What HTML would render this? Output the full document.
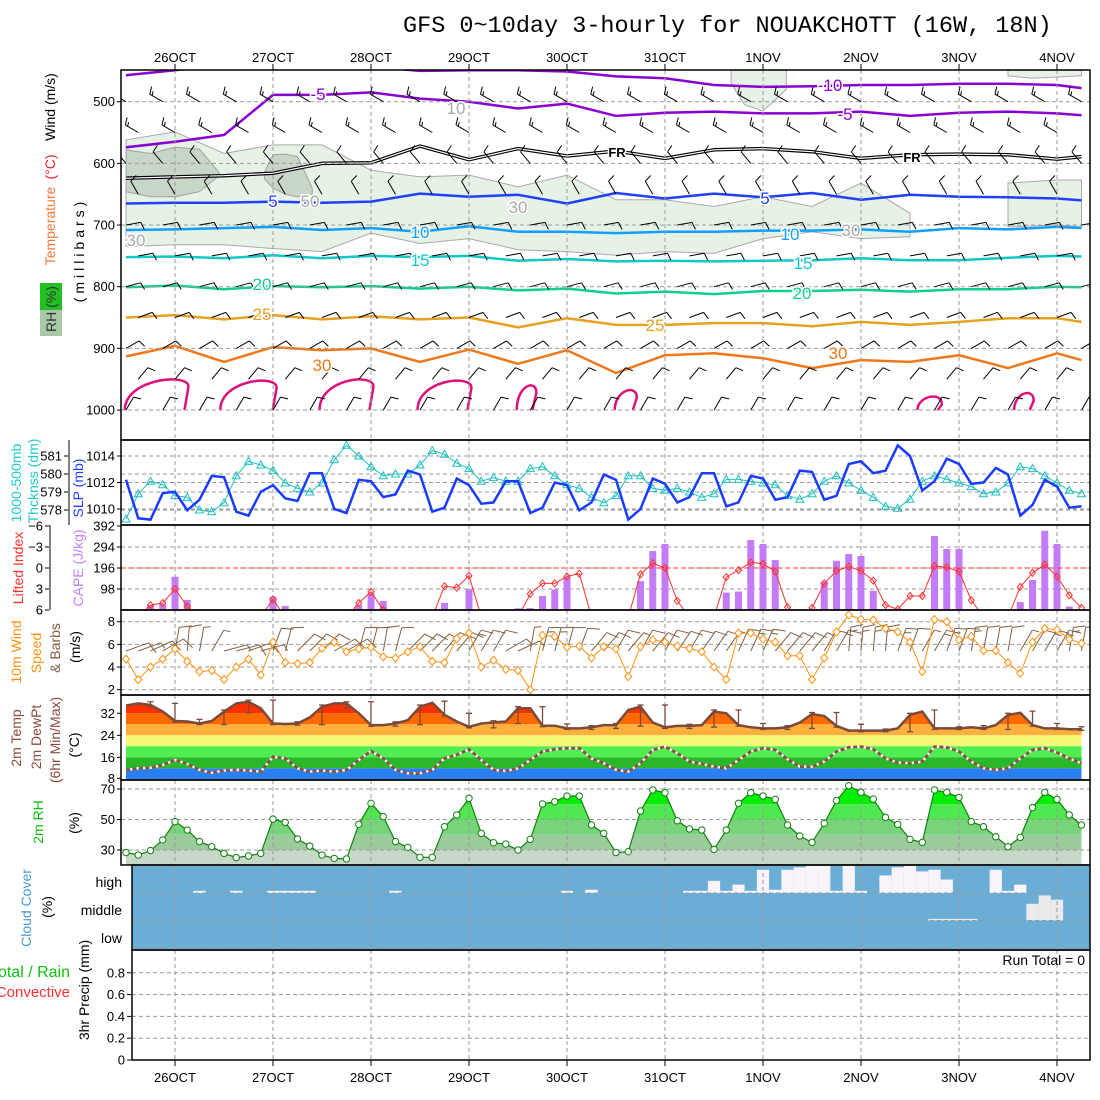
<!DOCTYPE html>
<html><head><meta charset="utf-8"><style>
html,body{margin:0;padding:0;background:#fff;}
svg{display:block;font-family:"Liberation Sans",sans-serif;}
.t{font-size:13px;fill:#000;}
</style></head><body>
<svg id="chart" xmlns="http://www.w3.org/2000/svg" width="1100" height="1100" viewBox="0 0 1100 1100">
<rect x="0" y="0" width="1100" height="1100" fill="#fff"/>
<text x="403" y="32" font-family="Liberation Mono, monospace" font-size="23.5" fill="#000">GFS 0~10day 3-hourly for NOUAKCHOTT (16W, 18N)</text>
<g id="layers"></g>
<g font-size="14">
 <text transform="translate(55,107) rotate(-90)" text-anchor="middle" fill="#000">Wind (m/s)</text>
 <text transform="translate(55,167) rotate(-90)" text-anchor="middle" fill="#e02020">(°C)</text>
 <text transform="translate(55,226) rotate(-90)" text-anchor="middle" fill="#f07838">Temperature</text>
 <text transform="translate(84,250) rotate(-90)" text-anchor="middle" fill="#000" letter-spacing="4">(millibars)</text>
 <rect x="40" y="283" width="22" height="27" fill="#22c022"/>
 <rect x="40" y="310" width="22" height="26" fill="#a8c8a8"/>
 <text transform="translate(56,309) rotate(-90)" text-anchor="middle" fill="#333">RH (%)</text>
 <text transform="translate(21,483) rotate(-90)" text-anchor="middle" fill="#20c8c8">1000-500mb</text>
 <text transform="translate(38,481) rotate(-90)" text-anchor="middle" fill="#20c8c8">Thcknss (dm)</text>
 <text transform="translate(83,488) rotate(-90)" text-anchor="middle" fill="#2040ff">SLP (mb)</text>
 <text transform="translate(23,568) rotate(-90)" text-anchor="middle" fill="#ff3030">Lifted Index</text>
 <text transform="translate(83,568) rotate(-90)" text-anchor="middle" fill="#c080f8">CAPE (J/kg)</text>
 <text transform="translate(21,652) rotate(-90)" text-anchor="middle" fill="#ff9010">10m Wind</text>
 <text transform="translate(41,653) rotate(-90)" text-anchor="middle" fill="#ff9010">Speed</text>
 <text transform="translate(60,648) rotate(-90)" text-anchor="middle" fill="#806040">&amp; Barbs</text>
 <text transform="translate(80,647) rotate(-90)" text-anchor="middle" fill="#000">(m/s)</text>
 <text transform="translate(21,738) rotate(-90)" text-anchor="middle" fill="#8a4a3a">2m Temp</text>
 <text transform="translate(41,737) rotate(-90)" text-anchor="middle" fill="#8a4a3a">2m DewPt</text>
 <text transform="translate(60,740) rotate(-90)" text-anchor="middle" fill="#8a4a3a">(6hr Min/Max)</text>
 <text transform="translate(79,745) rotate(-90)" text-anchor="middle" fill="#000">(°C)</text>
 <text transform="translate(43,822) rotate(-90)" text-anchor="middle" fill="#10c010">2m RH</text>
 <text transform="translate(79,823) rotate(-90)" text-anchor="middle" fill="#000">(%)</text>
 <text transform="translate(31,908) rotate(-90)" text-anchor="middle" fill="#4a9ad0">Cloud Cover</text>
 <text transform="translate(52,907) rotate(-90)" text-anchor="middle" fill="#000">(%)</text>
 <text x="122" y="887" text-anchor="end">high</text>
 <text x="122" y="915" text-anchor="end">middle</text>
 <text x="122" y="943" text-anchor="end">low</text>
 <text x="70" y="977" text-anchor="end" fill="#10c010" font-size="16">Total / Rain</text>
 <text x="70" y="997" text-anchor="end" fill="#ff3030" font-size="15">Convective</text>
 <text transform="translate(89,990) rotate(-90)" text-anchor="middle" fill="#000">3hr Precip (mm)</text>
 <text x="1085" y="965" text-anchor="end">Run Total = 0</text>
</g>
</svg>
<script>
// ---------- data ----------
const dayLabels=["26OCT","27OCT","28OCT","29OCT","30OCT","31OCT","1NOV","2NOV","3NOV","4NOV"];
const slp=[1012.2,1009.3,1009.2,1011.2,1011.3,1009.9,1010.7,1012.5,1012.4,1009.8,1009.5,1011.3,1011.8,1010.8,1010.6,1012.7,1012.7,1010.0,1009.7,1012.2,1012.1,1010.9,1011.1,1012.9,1012.6,1009.8,1010.1,1012.3,1011.8,1010.4,1010.5,1012.1,1012.1,1009.7,1010.1,1012.0,1011.8,1009.9,1010.5,1012.6,1012.2,1009.2,1010.0,1012.3,1011.9,1010.5,1010.9,1012.7,1012.7,1010.2,1010.5,1012.5,1012.3,1010.7,1010.9,1012.9,1012.8,1010.7,1011.0,1013.4,1013.6,1012.7,1012.9,1014.8,1014.0,1011.4,1012.1,1013.8,1013.4,1011.9,1012.0,1013.1,1012.6,1009.5,1010.3,1012.2,1011.7,1010.1,1010.2];
const thick=[577.5,578.9,579.6,579.4,578.8,578.7,578.0,577.9,578.4,579.9,580.7,580.5,580.2,579.5,579.2,579.0,579.5,580.8,581.6,581.0,580.4,579.9,580.0,580.0,580.5,581.3,581.1,580.6,580.3,579.6,579.8,579.6,579.6,580.3,580.4,579.9,579.4,579.2,578.7,578.4,578.8,579.9,579.9,579.2,579.1,579.2,579.0,578.7,578.9,579.7,579.7,579.6,579.5,579.4,578.8,578.6,578.9,579.6,579.9,579.5,579.1,578.7,578.2,578.1,578.6,579.6,579.9,579.7,579.5,579.3,578.9,579.0,579.5,580.4,580.3,579.9,579.5,579.1,578.9];
const cape=[5,0,23,28,155,47,0,0,0,0,0,0,62,19,0,0,0,0,0,23,78,42,0,0,0,0,33,0,96,0,0,0,8,9,65,96,155,0,0,0,0,0,135,275,308,0,0,0,0,81,86,327,308,233,0,0,0,132,230,261,252,90,0,0,0,0,345,285,285,0,0,0,0,37,140,370,308,16,0];
const li=[7,7,5.3,5.0,3.0,5.5,7,7,7,7,7,7,4.5,7,7,7,7,7,7,5.0,3.4,6.0,7,7,7,7,2.6,2.8,1.1,7,7,7,7,3.7,2.2,2.2,1.2,0.8,7,7,7,7,0.9,-0.7,0,4.7,7,7,7,1.3,0.3,-0.8,-0.6,0.5,5.6,7,5.7,2.2,0.4,-0.2,0.4,1.8,5.3,5.9,4.0,4.0,-0.3,-0.1,0.5,4.6,7,7,7,2.7,0.7,-0.5,1.2,3.9,5.7];
const wspd=[4.7,2.9,4.0,4.7,5.6,4.5,3.6,3.7,2.9,4.0,4.7,3.3,6.2,4.4,4.3,4.4,5.65,6.2,5.35,5.6,5.75,4.9,4.8,5.35,5.8,4.5,4.4,6.5,7.0,4.0,4.6,3.8,3.7,2.0,6.8,6.7,5.75,5.85,4.8,5.8,5.6,3.15,5.8,6.4,6.2,5.85,5.65,5.35,4.0,2.9,7.0,7.0,6.45,6.2,5.0,5.0,2.9,4.8,7.1,8.6,8.2,8.15,7.4,7.1,6.2,3.6,8.2,8.0,6.4,6.7,5.45,5.45,4.4,3.45,6.2,7.4,7.3,6.45,6.1];
const wdir=[70,70,65,60,10,5,10,30,75,75,70,75,20,15,45,45,45,60,60,15,15,10,15,45,45,45,40,40,30,30,30,60,65,10,15,15,15,20,40,40,30,40,30,40,30,35,30,35,35,35,25,25,25,40,40,40,40,30,30,5,5,5,5,20,20,30,30,20,20,10,10,10,10,30,30,30,30,10,10];
const temp=[34.8,35.6,35.0,32.6,29.2,29.0,28.3,29.2,32.6,35.6,36.2,33.8,28.3,28.1,28.3,30.5,34.4,35.6,35.6,32.0,27.7,27.7,28.3,29.5,34.4,35.8,31.4,29.0,27.1,28.3,28.7,29.0,33.8,33.8,27.5,27.5,26.5,26.5,26.9,27.7,27.7,33.2,34.4,28.6,26.9,27.4,27.4,27.7,32.6,32.0,27.7,26.9,26.5,26.5,26.9,28.6,31.7,31.0,27.4,25.7,25.7,25.7,25.7,26.5,31.4,32.6,26.5,26.5,26.5,26.9,26.5,27.7,31.4,32.2,27.7,26.5,26.5,26.2,26.2];
const dewpt=[11.4,12.0,12.2,13.2,15.0,13.6,11.4,10.4,11.2,11.4,11.2,10.8,16.2,15.6,12.0,10.8,11.2,10.8,11.4,15.0,18.3,15.6,11.4,10.2,10.2,11.4,15.6,16.9,18.9,15.0,11.4,11.0,12.0,15.0,18.1,18.9,19.3,19.3,15.6,13.8,11.4,10.8,13.8,18.7,19.9,17.5,14.4,13.6,12.6,12.0,15.0,18.1,19.3,18.7,15.3,12.6,12.6,14.4,18.1,19.6,19.9,18.9,15.6,14.1,13.8,14.4,19.9,19.6,18.1,14.4,12.0,11.4,12.0,15.6,18.7,19.3,17.7,15.6,13.8];
const rh=[28.3,26.7,29.6,36.6,48.6,43.1,35.5,32.2,27.8,25.0,26.1,27.8,50.3,48.1,37.2,32.6,26.7,24.5,24.1,46.8,60.6,51.9,35.5,31.7,25.2,25.2,45.3,53.0,63.9,40.9,34.8,33.9,30.0,37.0,60.2,61.7,65.4,65.4,46.4,40.9,28.3,28.9,55.6,69.4,67.6,49.2,43.8,43.1,30.4,43.1,60.6,67.6,65.4,63.2,46.4,39.2,35.0,47.5,62.4,72.2,67.8,63.4,51.4,46.8,37.0,35.0,69.4,67.8,64.5,48.6,45.3,38.7,32.2,38.3,57.8,67.8,63.2,53.0,46.4];
const cloudHigh=[0,0,0,0,0,0,8,0,0,8,0,0,8,8,8,8,0,0,0,0,0,0,8,0,0,0,0,0,0,0,0,0,0,0,0,0,8,0,12,0,0,0,0,0,0,0,8,8,45,8,31,8,86,12,86,95,100,100,8,100,8,0,65,95,100,80,86,50,0,0,0,86,8,31,0,0,0,0,0];
const cloudMid=[0,0,0,0,0,0,0,0,0,0,0,0,0,0,0,0,0,0,0,0,0,0,0,0,0,0,0,0,0,0,0,0,0,0,0,0,0,0,0,0,0,0,0,0,0,0,0,0,0,0,0,0,0,0,0,0,0,0,0,0,0,0,0,0,0,0,6,6,6,6,0,0,0,0,62,93,77,0,0];
const cloudLow=new Array(79).fill(0);
const precip=new Array(79).fill(0);
// upper-air contours (hPa), sampled at these time indices
const cIdx=[0,4,8,12,16,20,24,28,32,36,40,44,48,52,56,60,64,68,72,76,78];
const isoM10=[457,449,438,432,438,443,450,449,449,451,459,462,473,476,475,473,473,471,471,473,478];
const isoM5=[574,565,554,489,489,485,495,500,511,503,523,518,516,519,519,516,523,518,516,519,522];
const isoFR=[624,622,620,616,600,599,572,594,576,588,580,592,578,576,581,592,586,585,586,593,589];
const iso5=[665,664,664,662,664,662,649,654,651,665,648,657,649,655,648,659,651,654,655,657,660];
const iso10=[708,707,705,703,708,705,711,702,711,711,713,711,711,709,709,707,711,705,707,703,705];
const iso15=[752,751,754,749,754,750,752,750,758,755,759,758,759,758,757,754,757,757,753,750,751];
const iso20=[801,798,804,799,801,799,803,800,806,803,811,808,812,807,807,805,808,804,804,800,801];
const iso25=[850,846,853,846,853,848,853,850,866,851,862,862,859,859,864,857,862,857,851,851,857];
const iso30=[913,896,922,898,903,900,922,902,925,903,940,911,908,916,932,919,922,911,932,908,919];
const rhTop=[562,549,584,570,570,611,622,619,638,619,659,659,670,654,670,632,681,null,632,627,627];
const rhBot=[735,732,732,738,743,713,730,722,740,743,749,743,746,722,711,722,719,null,703,700,703];
const blob1Idx=[0,2,4,6,7.6], blob1Top=[578,584,574,577,615], blob1Bot=[646,654,654,646,620];
const blob2Idx=[11.3,12,13,14,15.2], blob2Top=[615,586,585,589,640], blob2Bot=[625,640,650,654,650];
const blob3Idx=[49.4,50.5,52,53.9], blob3Top=[449,449,449,449], blob3Bot=[470,505,515,480];
const blob4Idx=[72,74,76,78], blob4Top=[449,449,449,449], blob4Bot=[458,462,460,458];
const hotIdx=[2.5,10,18,26,32.7,40.8,65.6,73.3], hotHalf=[2.6,2.3,2.2,2.2,0.8,0.9,1.0,0.8], hotTop=[949,951,949,951,959,967,978,972];
const upLevels=[500,550,600,650,700,750,800,850,900,950,1000];
const upDir=[300,300,320,330,80,80,75,70,60,40,30];
const upSpd=[15,15,10,10,10,10,10,10,10,10,10];

// ---------- scales ----------
const X0=126, DX=12.25, L=121, R=1090;
const xi=i=>X0+DX*i;
const yP=p=>101.7+(p-500)*0.6167;
const yS=v=>482.5-(v-1012)*13.25;
const yT=v=>456+(581-v)*18;
const yC=v=>610-v*84/392;
const yL=v=>568+v*7;
const yW=v=>689.7-(v-2)*11.33;
const yTe=v=>713.3+(32-v)*2.75;
const yR=v=>850-(v-30)*1.525;
const yPr=v=>1060-v*109;
const NS="http://www.w3.org/2000/svg";
const root=document.getElementById('layers');
function mk(tag,attrs,parent){const e=document.createElementNS(NS,tag);for(const k in attrs)e.setAttribute(k,attrs[k]);(parent||root).appendChild(e);return e;}
function grp(name){const g=mk('g',{});return g;}
function pts(arr){return arr.map(p=>p[0].toFixed(1)+','+p[1].toFixed(1)).join(' ');}
const defs=mk('defs',{});
function clip(id,x,y,w,h){const c=mk('clipPath',{id:id},defs);mk('rect',{x:x,y:y,width:w,height:h},c);}
clip('cUp',L,70,R-L,370);clip('cSlp',L,440,R-L,85);clip('cCape',L,525,R-L,85);clip('cWind',L,610,R-L,85);clip('cRh',L,780,R-L,85);

// ---------- upper panel ----------
const gUp=grp('upper-air-panel');gUp.setAttribute('clip-path','url(#cUp)');
function area(g,idx,top,bot,fill,stroke,name){
  let segs=[],cur=[];
  idx.forEach((ix,k)=>{if(top[k]==null){if(cur.length)segs.push(cur);cur=[];}else cur.push(k);});
  if(cur.length)segs.push(cur);
  segs.forEach(s=>{const a=s.map(k=>[xi(idx[k]),yP(top[k])]).concat(s.slice().reverse().map(k=>[xi(idx[k]),yP(bot[k])]));
    const p=mk('polygon',{points:pts(a),fill:fill,stroke:stroke,'stroke-width':1},g);
    
    });
}
area(gUp,cIdx,rhTop,rhBot,'#e6f2e6','#a8a8a8','rh-30-area');
area(gUp,blob3Idx,blob3Top,blob3Bot,'#e6f2e6','#a8a8a8','rh-30-area');
area(gUp,blob4Idx,blob4Top,blob4Bot,'#e6f2e6','#a8a8a8','rh-30-area');
area(gUp,blob1Idx,blob1Top,blob1Bot,'#c8d6c8','#a0a0a0','rh-50-area');
area(gUp,blob2Idx,blob2Top,blob2Bot,'#c8d6c8','#a0a0a0','rh-50-area');
// grid
const gGrid=grp('grid-lines');
function hgrid(y,x1){const l=mk('line',{x1:x1||L,x2:R,y1:y,y2:y,stroke:'#999','stroke-dasharray':'4,3','stroke-width':1},gGrid);}
[500,600,700,800,900,1000].forEach(p=>hgrid(yP(p)));
[1010,1012,1014].forEach(v=>hgrid(yS(v)));[578,579,580,581].forEach(v=>hgrid(yT(v)));
[98,196,294].forEach(v=>hgrid(yC(v)));
[2,4,6,8].forEach(v=>hgrid(yW(v)));
[30,50,70].forEach(v=>hgrid(yR(v)));
[0.2,0.4,0.6,0.8].forEach(v=>hgrid(yPr(v),132));
dayLabels.forEach((d,k)=>{const x=xi(4+8*k);
  [[70,440],[440,525],[525,610],[610,695],[695,780],[780,865],[950,1060]].forEach(r=>{const l=mk('line',{x1:x,x2:x,y1:r[0],y2:r[1],stroke:'#999','stroke-dasharray':'4,3'},gGrid);});
});
// contours
function contour(arr,color,w,name){const a=cIdx.map((ix,k)=>[xi(ix),yP(arr[k])]);
  const p=mk('polyline',{points:pts(a),fill:'none',stroke:color,'stroke-width':w,'stroke-linejoin':'round'},gUp);
  
  return a;}
contour(isoM10,'#8a00d0',2.5,'isotherm-minus10');
contour(isoM5,'#8a00d0',2.5,'isotherm-minus5');
contour(isoFR,'#000',3.5,'freezing-level');
const frIn=mk('polyline',{points:pts(cIdx.map((ix,k)=>[xi(ix),yP(isoFR[k])])),fill:'none',stroke:'#fff','stroke-width':1.2},gUp);


contour(iso5,'#2040ff',2.5,'isotherm-5');
contour(iso10,'#10a0ff',2.5,'isotherm-10');
contour(iso15,'#10c8c8',2.5,'isotherm-15');
contour(iso20,'#10d090',2.5,'isotherm-20');
contour(iso25,'#e8a020',2.5,'isotherm-25');
contour(iso30,'#f07818',2.5,'isotherm-30');
hotIdx.forEach((c,k)=>{const x1=xi(c-hotHalf[k]),x2=xi(c+hotHalf[k]),yt=yP(hotTop[k]),yb=yP(1000);
  const p=mk('path',{d:`M${x1},${yb} C${x1},${yt} ${x2},${yt-6} ${x2},${yt+8} L${x2-4},${yb}`,fill:'none',stroke:'#e0107a','stroke-width':2.5},gUp);
  
  });
// barbs
function barb(g,x,y,dir,spd,Ln,color,w){
  const r=dir*Math.PI/180,ux=Math.sin(r),uy=-Math.cos(r);
  const tx=x+ux*Ln,ty=y+uy*Ln;let d=`M${x.toFixed(1)},${y.toFixed(1)}L${tx.toFixed(1)},${ty.toFixed(1)}`;
  const px=-uy,py=ux;let n=Math.round(spd/5);let pos=0;
  while(n>0){const bx=tx-ux*pos,by=ty-uy*pos;const len=n>=2?0.5*Ln:0.28*Ln;
    d+=`M${bx.toFixed(1)},${by.toFixed(1)}l${(px*len+ux*len*0.3).toFixed(1)},${(py*len+uy*len*0.3).toFixed(1)}`;
    n-=2;pos+=0.18*Ln;}
  const e=mk('path',{d:d,fill:'none',stroke:color,'stroke-width':w||1},g);return e;}
const gUB=grp('upper-wind-barbs');gUB.setAttribute('clip-path','url(#cUp)');
upLevels.forEach((p,k)=>{for(let i=(k%2);i<79;i+=3){const b=barb(gUB,xi(i),yP(p),upDir[k],upSpd[k],15,'#000',1);
  
  }});

// ---------- SLP / thickness ----------
const gS=grp('slp-thickness-panel');gS.setAttribute('clip-path','url(#cSlp)');
const thl=mk('polyline',{points:pts(thick.map((v,i)=>[xi(i),yT(v)])),fill:'none',stroke:'#20c0c0','stroke-width':1},gS);


thick.forEach((v,i)=>{const x=xi(i),y=yT(v);const t=mk('polygon',{points:`${x},${y-4} ${x-4},${y+3} ${x+4},${y+3}`,fill:'none',stroke:'#20c0c0'},gS);
  
  });
const sl=mk('polyline',{points:pts(slp.map((v,i)=>[xi(i),yS(v)])),fill:'none',stroke:'#1a3cff','stroke-width':2.5},gS);



// ---------- CAPE / LI ----------
const gC=grp('cape-li-panel');gC.setAttribute('clip-path','url(#cCape)');
cape.forEach((v,i)=>{if(v<=0)return;const b=mk('rect',{x:xi(i)-3.5,y:yC(v),width:7,height:610-yC(v),fill:'#c47cf6'},gC);
  
  });
const z=mk('line',{x1:L,x2:R,y1:yL(0),y2:yL(0),stroke:'#ff3030','stroke-dasharray':'5,3'},gC);


const ll=mk('polyline',{points:pts(li.map((v,i)=>[xi(i),yL(v)])),fill:'none',stroke:'#ff3030','stroke-width':1},gC);


li.forEach((v,i)=>{if(v>6)return;const x=xi(i),y=yL(v);const d=mk('polygon',{points:`${x},${y-3.5} ${x+3},${y} ${x},${y+3.5} ${x-3},${y}`,fill:'none',stroke:'#ff3030'},gC);
  
  });

// ---------- wind ----------
const gW=grp('wind-panel');gW.setAttribute('clip-path','url(#cWind)');
wdir.forEach((d,i)=>{const b=barb(gW,xi(i),651,d,wspd[i]*1.94,24,'#806040',1);
  
  });
const wl=mk('polyline',{points:pts(wspd.map((v,i)=>[xi(i),yW(v)])),fill:'none',stroke:'#ff9010','stroke-width':1},gW);


wspd.forEach((v,i)=>{const x=xi(i),y=yW(v);const d=mk('polygon',{points:`${x},${y-4} ${x+3.5},${y} ${x},${y+4} ${x-3.5},${y}`,fill:'#fff',stroke:'#ff9010'},gW);
  
  });

// ---------- temperature ----------
const gT=grp('temperature-panel');
const tc=mk('clipPath',{id:'cTemp'},defs);
mk('polygon',{points:pts([[xi(0),780]].concat(temp.map((v,i)=>[xi(i),yTe(v)])).concat([[xi(78),780]]))},tc);
const bands=[[40,32,'#ff3000'],[32,28,'#ff6a00'],[28,24,'#ffb03c'],[24,20,'#f4fa78'],[20,16,'#50ee50'],[16,12,'#2ab82a'],[12,6,'#2a80f0']];
const gB=mk('g',{'clip-path':'url(#cTemp)'},gT);
bands.forEach(b=>{const y1=Math.max(695,yTe(b[0])),y2=Math.min(780,yTe(b[1]));const r=mk('rect',{x:L,y:y1,width:R-L,height:y2-y1,fill:b[2]},gB);
  
  });
for(let i=2;i<79;i+=2){const seg=temp.slice(i-2,i+1);const hi=Math.max(...seg)+0.6,lo=Math.min(...seg)-0.4;const x=xi(i);
  const e=mk('path',{d:`M${x},${yTe(hi)}V${yTe(lo)}M${x-3},${yTe(hi)}h6M${x-3},${yTe(lo)}h6`,stroke:'#7a4a3a','stroke-width':1.3,fill:'none'},gT);
  
  }
const tl=mk('polyline',{points:pts(temp.map((v,i)=>[xi(i),yTe(v)])),fill:'none',stroke:'#7a4a3a','stroke-width':2.5},gT);


const dw=mk('polyline',{points:pts(dewpt.map((v,i)=>[xi(i),yTe(v)])),fill:'none',stroke:'#f0f0f0','stroke-width':2.5},gT);


const dl=mk('polyline',{points:pts(dewpt.map((v,i)=>[xi(i),yTe(v)])),fill:'none',stroke:'#8a5040','stroke-width':2.8,'stroke-dasharray':'4,2.5'},gT);



// ---------- RH ----------
const gR=grp('rh-panel');gR.setAttribute('clip-path','url(#cRh)');
const rc=mk('clipPath',{id:'cRhA'},defs);
mk('polygon',{points:pts([[xi(0),865]].concat(rh.map((v,i)=>[xi(i),yR(v)])).concat([[xi(78),865]]))},rc);
const gRB=mk('g',{'clip-path':'url(#cRhA)'},gR);
[[100,60,'#00ee00'],[60,50,'#50e850'],[50,40,'#78d478'],[40,30,'#9ccc9c'],[30,0,'#c8d8c8']].forEach(b=>{const y1=Math.max(780,yR(b[0])),y2=Math.min(865,yR(b[1]));const r=mk('rect',{x:L,y:y1,width:R-L,height:y2-y1,fill:b[2]},gRB);
  
  });
[30,50,70].forEach(v=>{const l=mk('line',{x1:L,x2:R,y1:yR(v),y2:yR(v),stroke:'#999','stroke-dasharray':'4,3'},gR);});
dayLabels.forEach((d,k)=>{const x=xi(4+8*k);const l=mk('line',{x1:x,x2:x,y1:780,y2:865,stroke:'#999','stroke-dasharray':'4,3'},gR);});
const rl=mk('polyline',{points:pts(rh.map((v,i)=>[xi(i),yR(v)])),fill:'none',stroke:'#108010','stroke-width':1.2},gR);


rh.forEach((v,i)=>{const c=mk('circle',{cx:xi(i),cy:yR(v),r:3.2,fill:'#fff',stroke:'#108010'},gR);
  
  });

// ---------- cloud ----------
const gCl=grp('cloud-panel');
const cb=mk('rect',{x:132,y:866,width:R-132,height:83,fill:'#6aaed6'},gCl);


function cloudRow(arr,bottom,fill,name){arr.forEach((v,i)=>{if(v<=0)return;const h=v/100*27;const r=mk('rect',{x:xi(i)-6.12,y:bottom-h,width:12.25,height:h,fill:fill},gCl);
  
  });}
cloudRow(cloudHigh,893,'#f8f4fa','cloud-high-block');
cloudRow(cloudMid,920.5,'#ebebeb','cloud-mid-block');
cloudRow(cloudLow,948,'#e0e0e0','cloud-low-block');
[893,920.5,948].forEach(y=>{const l=mk('line',{x1:132,x2:R,y1:y,y2:y,stroke:'#999','stroke-dasharray':'4,3'},gCl);});
dayLabels.forEach((d,k)=>{const x=xi(4+8*k);const l=mk('line',{x1:x,x2:x,y1:866,y2:949,stroke:'#999','stroke-dasharray':'4,3'},gCl);});

// ---------- precip ----------
const gPr=grp('precip-panel');
precip.forEach((v,i)=>{if(v<=0)return;const r=mk('rect',{x:xi(i)-4,y:yPr(v),width:8,height:1060-yPr(v),fill:'#10c010'},gPr);
  
  });

// ---------- frames & ticks ----------
const gF=grp('panel-frames');
function fr(x,y,w,h){const r=mk('rect',{x:x,y:y,width:w,height:h,fill:'none',stroke:'#000','stroke-width':1.5},gF);}
fr(L,70,R-L,370);fr(L,440,R-L,85);fr(L,525,R-L,85);fr(L,610,R-L,85);fr(L,695,R-L,85);fr(L,780,R-L,85);fr(132,865,R-132,85);fr(132,950,R-132,110);
const gTk=grp('tick-labels');
function tk(x,y,s,anchor,name){const t=mk('text',{x:x,y:y+4.5,'text-anchor':anchor||'end','class':'t'},gTk);t.textContent=s;
  const m=mk('line',{x1:(anchor==='middle'?x:x+2),x2:(anchor==='middle'?x:x+6),y1:y,y2:y,stroke:'#000'},gTk);}
[500,600,700,800,900,1000].forEach(p=>tk(115,yP(p),String(p),'end','pressure-tick'));
[1010,1012,1014].forEach(v=>tk(115,yS(v),String(v),'end','slp-tick'));
[578,579,580,581].forEach(v=>tk(62,yT(v),String(v),'end','thickness-tick'));
const ax1=mk('line',{x1:69,x2:69,y1:440,y2:525,stroke:'#000'},gTk);
[98,196,294,392].forEach(v=>tk(115,yC(v),String(v),'end','cape-tick'));
[-6,-3,0,3,6].forEach(v=>tk(43,yL(v),v<0?'\u2212'+(-v):String(v),'end','li-tick'));
const ax2=mk('line',{x1:50,x2:50,y1:525,y2:610,stroke:'#000'},gTk);
[2,4,6,8].forEach(v=>tk(115,yW(v),String(v),'end','wind-speed-tick'));
[8,16,24,32].forEach(v=>tk(115,yTe(v)-(v===8?1:0),String(v),'end','temp-tick'));
[30,50,70].forEach(v=>tk(115,yR(v),String(v),'end','rh-tick'));
[0,0.2,0.4,0.6,0.8].forEach(v=>tk(125,yPr(v),String(v),'end','precip-tick'));
dayLabels.forEach((d,k)=>{const x=xi(4+8*k);
  const a=mk('text',{x:x,y:62,'text-anchor':'middle','class':'t','font-size':'14'},gTk);a.textContent=d;
  
  
  const b=mk('text',{x:x,y:1082,'text-anchor':'middle','class':'t','font-size':'14'},gTk);b.textContent=d;
  
  
  mk('line',{x1:x,x2:x,y1:64,y2:70,stroke:'#000'},gTk);mk('line',{x1:x,x2:x,y1:1060,y2:1066,stroke:'#000'},gTk);});

// ---------- contour labels ----------
const gLb=grp('contour-labels');
[["-10",830,91,'#8a00d0'],["-5",318,100,'#8a00d0'],["-5",845,120,'#8a00d0'],["FR",617,157,'#000'],["FR",912,162,'#000'],
 ["5",273,207,'#2040ff'],["5",765,204,'#2040ff'],["10",420,238,'#10a0ff'],["10",790,240,'#10a0ff'],["15",420,266,'#10c8c8'],["15",803,269,'#10c8c8'],
 ["20",262,290,'#10d090'],["20",802,299,'#10d090'],["25",262,320,'#e8a020'],["25",655,331,'#e8a020'],["30",322,371,'#f07818'],["30",838,359,'#f07818'],
 ["10",456,114,'#aaa'],["50",310,207,'#aaa'],["30",518,213,'#aaa'],["30",136,246,'#aaa'],["30",851,236,'#aaa']].forEach(a=>{
  const t=mk('text',{x:a[1],y:a[2],'text-anchor':'middle','font-size':a[0]==='FR'?13:17,fill:a[3],stroke:'#fff','stroke-width':3,'paint-order':'stroke','font-weight':a[0]==='FR'?'bold':'normal'},gLb);
  t.textContent=a[0];
  
  });
</script>
</body></html>
